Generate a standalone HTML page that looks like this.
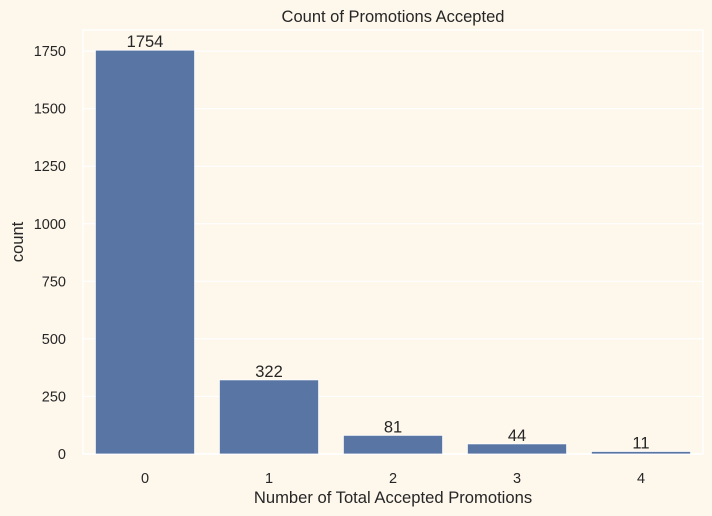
<!DOCTYPE html>
<html><head><meta charset="utf-8"><style>
body{margin:0;background:#fef7ec;}
svg{display:block;font-family:"Liberation Sans",sans-serif;}
</style></head><body>
<svg id="chart" width="712" height="516" viewBox="0 0 712 516">
<rect x="0" y="0" width="712" height="516" fill="#fef7ec"/>
<rect x="83" y="30" width="620" height="424" fill="#fef7ec" stroke="#ffffff" stroke-width="1.5"/>
<g id="grid"></g><g id="bars"></g><g id="labels"></g><g id="yticks"></g><g id="xticks"></g>
<text x="393" y="22" text-anchor="middle" font-size="16.5" fill="#262626">Count of Promotions Accepted</text>
<text x="393" y="503" text-anchor="middle" font-size="16.6" fill="#262626">Number of Total Accepted Promotions</text>
<text transform="translate(23,242) rotate(-90)" text-anchor="middle" font-size="16.6" fill="#262626">count</text>
</svg>
<script>
const categories=["0","1","2","3","4"];
const counts=[1754,322,81,44,11];
const yTicks=[0,250,500,750,1000,1250,1500,1750];
const NS="http://www.w3.org/2000/svg";
const L=83,R=703,T=30,B=454;
const yMax=Math.max(...counts)*1.05;
function y(v){return B-(v/yMax)*(B-T);}
const step=(R-L)/categories.length;
function x(i){return L+step*(i+0.5);}
function mk(tag,attrs,parent,text){const e=document.createElementNS(NS,tag);for(const k in attrs)e.setAttribute(k,attrs[k]);if(text!==undefined)e.textContent=text;document.getElementById(parent).appendChild(e);return e;}
yTicks.forEach(t=>{
  const g=mk('line',{x1:L,x2:R,y1:y(t),y2:y(t),stroke:'#ffffff','stroke-width':1.2},'grid');
  
  
  const tx=mk('text',{x:L-17,y:y(t)+5,'text-anchor':'end','font-size':14.5,fill:'#262626'},'yticks',String(t));
  
  
});
categories.forEach((c,i)=>{
  const w=step*0.8;
  const r=mk('rect',{x:x(i)-w/2,y:y(counts[i]),width:w,height:B-y(counts[i]),fill:'#5975a4',stroke:'#ffffff','stroke-width':0.8},'bars');
  
  
  const lb=mk('text',{x:x(i),y:y(counts[i])-3,'text-anchor':'middle','font-size':16.5,fill:'#262626'},'labels',String(counts[i]));
  
  
  const tk=mk('text',{x:x(i),y:B+29,'text-anchor':'middle','font-size':14.5,fill:'#262626'},'xticks',c);
  
  
});
</script>
</body></html>
